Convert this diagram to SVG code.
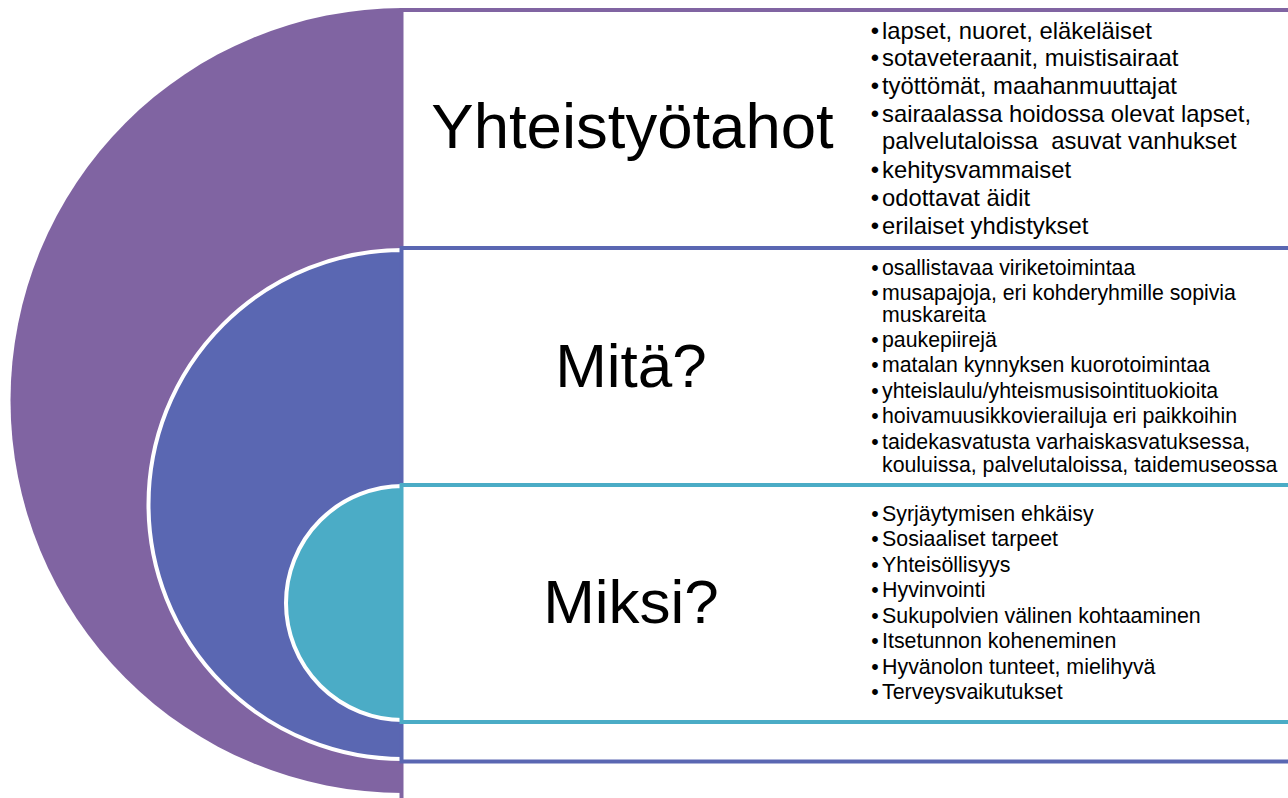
<svg xmlns="http://www.w3.org/2000/svg" width="1288" height="798" viewBox="0 0 1288 798">
  <style>
    .bg { fill: #ffffff; stroke: none; }
    .title { font-family: "Liberation Sans", Arial, sans-serif; font-size: 62px; fill: #000000; text-anchor: middle; }
    .big { font-size: 63.5px; }
    .l1 { font-family: "Liberation Sans", Arial, sans-serif; font-size: 23.8px; fill: #000000; }
    .l2 { font-family: "Liberation Sans", Arial, sans-serif; font-size: 21.3px; fill: #000000; }
    .l3 { font-family: "Liberation Sans", Arial, sans-serif; font-size: 21.4px; fill: #000000; }
    .bul { text-anchor: middle; }
    .purple { fill: #8064A2; }
    .blue { fill: #5A67B2; stroke: #ffffff; stroke-width: 4; }
    .teal { fill: #4BACC6; stroke: #ffffff; stroke-width: 4; }
    .opurple { fill: none; stroke: #8064A2; stroke-width: 4; }
    .oblue { fill: none; stroke: #5A67B2; stroke-width: 4; }
    .oteal { fill: none; stroke: #4BACC6; stroke-width: 4; }
  </style>
  <rect x="0" y="0" width="1288" height="798" fill="#ffffff"/>

  <g id="node-yhteistyotahot">
    <rect class="bg" x="401.5" y="10" width="900" height="800"/>
    <path class="purple" d="M403,8 A392.5,392.5 0 0 0 403,793 Z"/>
    <rect class="opurple" x="401.5" y="10" width="900" height="800"/>
  </g>

  <g id="node-mita">
    <rect class="bg" x="401.5" y="248" width="900" height="513.5"/>
    <path class="blue" d="M403,250 A254.5,254.5 0 0 0 403,759 Z"/>
    <rect class="oblue" x="401.5" y="248" width="900" height="513.5"/>
  </g>

  <g id="node-miksi">
    <rect class="bg" x="401.5" y="485" width="900" height="237"/>
    <path class="teal" d="M403,486 A117,117 0 0 0 403,720 Z"/>
    <rect class="oteal" x="401.5" y="485" width="900" height="237"/>
  </g>

  <g id="connectors"/>

  <g id="text-yhteistyotahot">
    <text class="title big" x="632.5" y="148">Yhteistyötahot</text>
    <g class="l1">
      <text class="bul" x="875" y="38.5">•</text><text x="882" y="38.5">lapset, nuoret, eläkeläiset</text>
      <text class="bul" x="875" y="66">•</text><text x="882" y="66">sotaveteraanit, muistisairaat</text>
      <text class="bul" x="875" y="93.5">•</text><text x="882" y="93.5">työttömät, maahanmuuttajat</text>
      <text class="bul" x="875" y="122">•</text><text x="882" y="122">sairaalassa hoidossa olevat lapset,</text>
      <text x="882" y="148.5" xml:space="preserve">palvelutaloissa  asuvat vanhukset</text>
      <text class="bul" x="875" y="178">•</text><text x="882" y="178">kehitysvammaiset</text>
      <text class="bul" x="875" y="206">•</text><text x="882" y="206">odottavat äidit</text>
      <text class="bul" x="875" y="233.5">•</text><text x="882" y="233.5">erilaiset yhdistykset</text>
    </g>
  </g>

  <g id="text-mita">
    <text class="title" x="631" y="387">Mitä?</text>
    <g class="l2">
      <text class="bul" x="875" y="275">•</text><text x="882" y="275">osallistavaa viriketoimintaa</text>
      <text class="bul" x="875" y="299.5">•</text><text x="882" y="299.5">musapajoja, eri kohderyhmille sopivia</text>
      <text x="882" y="322">muskareita</text>
      <text class="bul" x="875" y="347">•</text><text x="882" y="347">paukepiirejä</text>
      <text class="bul" x="875" y="372">•</text><text x="882" y="372">matalan kynnyksen kuorotoimintaa</text>
      <text class="bul" x="875" y="397.5">•</text><text x="882" y="397.5">yhteislaulu/yhteismusisointituokioita</text>
      <text class="bul" x="875" y="423">•</text><text x="882" y="423">hoivamuusikkovierailuja eri paikkoihin</text>
      <text class="bul" x="875" y="449">•</text><text x="882" y="449">taidekasvatusta varhaiskasvatuksessa,</text>
      <text x="882" y="472">kouluissa, palvelutaloissa, taidemuseossa</text>
    </g>
  </g>

  <g id="text-miksi">
    <text class="title" x="631" y="623">Miksi?</text>
    <g class="l3">
      <text class="bul" x="875" y="520.5">•</text><text x="882" y="520.5">Syrjäytymisen ehkäisy</text>
      <text class="bul" x="875" y="546">•</text><text x="882" y="546">Sosiaaliset tarpeet</text>
      <text class="bul" x="875" y="571.5">•</text><text x="882" y="571.5">Yhteisöllisyys</text>
      <text class="bul" x="875" y="597">•</text><text x="882" y="597">Hyvinvointi</text>
      <text class="bul" x="875" y="622.5">•</text><text x="882" y="622.5">Sukupolvien välinen kohtaaminen</text>
      <text class="bul" x="875" y="648">•</text><text x="882" y="648">Itsetunnon koheneminen</text>
      <text class="bul" x="875" y="673.5">•</text><text x="882" y="673.5">Hyvänolon tunteet, mielihyvä</text>
      <text class="bul" x="875" y="699">•</text><text x="882" y="699">Terveysvaikutukset</text>
    </g>
  </g>
</svg>
